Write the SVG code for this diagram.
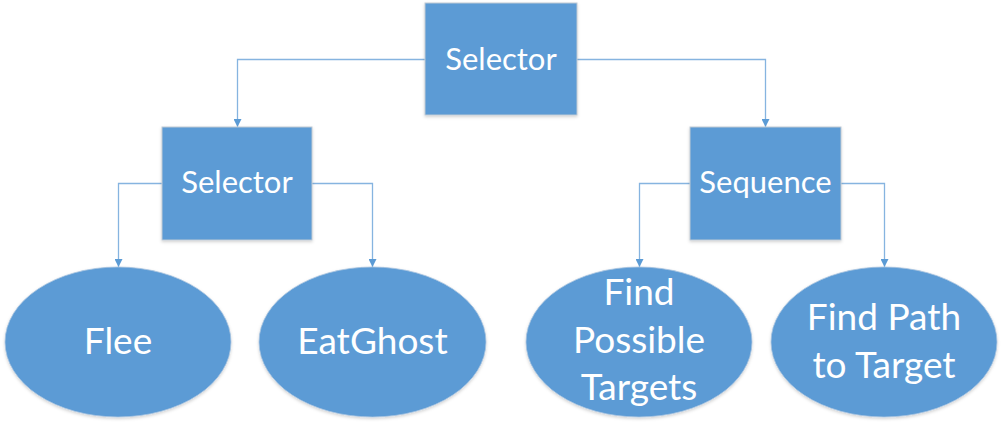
<svg xmlns="http://www.w3.org/2000/svg" width="1003" height="433" viewBox="0 0 1003 433">
  <defs>
    <marker id="arr" viewBox="0 0 10 10" refX="10" refY="5" markerWidth="8" markerHeight="8" markerUnits="userSpaceOnUse" orient="auto">
      <path d="M0,0 L10,5 L0,10 Z" fill="#5B9BD5"/>
    </marker>
    <filter id="sh" x="-10%" y="-10%" width="120%" height="125%">
      <feDropShadow dx="0" dy="1.5" stdDeviation="1.5" flood-color="#000" flood-opacity="0.18"/>
    </filter>
  </defs>
  <style>
    .box { fill: #5B9BD5; stroke: #BFC9D3; stroke-width: 1; filter: url(#sh); }
    .ell { fill: #5B9BD5; stroke: #A9C4E0; stroke-width: 0.8; filter: url(#sh); }
    .lbl { font-family: Lato, "Open Sans", "Liberation Sans", sans-serif; fill: #FFFFFF; text-anchor: middle; }
    .bl { font-size: 31px; }
    .el { font-size: 37px; }
    .con { fill: none; stroke: #86B4E0; stroke-width: 1.3; marker-end: url(#arr); }
  </style>
  <rect width="1003" height="433" fill="#FFFFFF"/>
  <g id="connectors">
    <path class="con" d="M425,59.5 H237.5 V127"/>
    <path class="con" d="M577,59.5 H765.5 V127"/>
    <path class="con" d="M162,183.5 H118.5 V267"/>
    <path class="con" d="M312,183.5 H372.5 V267"/>
    <path class="con" d="M690,183.5 H639.5 V267"/>
    <path class="con" d="M841,183.5 H884.5 V267"/>
  </g>
  <g id="root-selector">
    <rect class="box" x="425" y="3" width="152" height="112"/>
    <text class="lbl bl" x="501" y="70">Selector</text>
  </g>
  <g id="left-selector">
    <rect class="box" x="162" y="127" width="150" height="113"/>
    <text class="lbl bl" x="237" y="193">Selector</text>
  </g>
  <g id="sequence">
    <rect class="box" x="690" y="127" width="151" height="113"/>
    <text class="lbl bl" x="765.5" y="193">Sequence</text>
  </g>
  <g id="flee">
    <ellipse class="ell" cx="118" cy="342" rx="113" ry="75"/>
    <text class="lbl el" x="118" y="354">Flee</text>
  </g>
  <g id="eatghost">
    <ellipse class="ell" cx="372.5" cy="342" rx="113.5" ry="75"/>
    <text class="lbl el" x="372.5" y="354">EatGhost</text>
  </g>
  <g id="find-possible-targets">
    <ellipse class="ell" cx="639" cy="342" rx="113" ry="75"/>
    <text class="lbl el" x="639" y="305">Find</text>
    <text class="lbl el" x="639" y="353">Possible</text>
    <text class="lbl el" x="639" y="400">Targets</text>
  </g>
  <g id="find-path-to-target">
    <ellipse class="ell" cx="884" cy="342" rx="113" ry="75"/>
    <text class="lbl el" x="884" y="330">Find Path</text>
    <text class="lbl el" x="884" y="378">to Target</text>
  </g>
</svg>
